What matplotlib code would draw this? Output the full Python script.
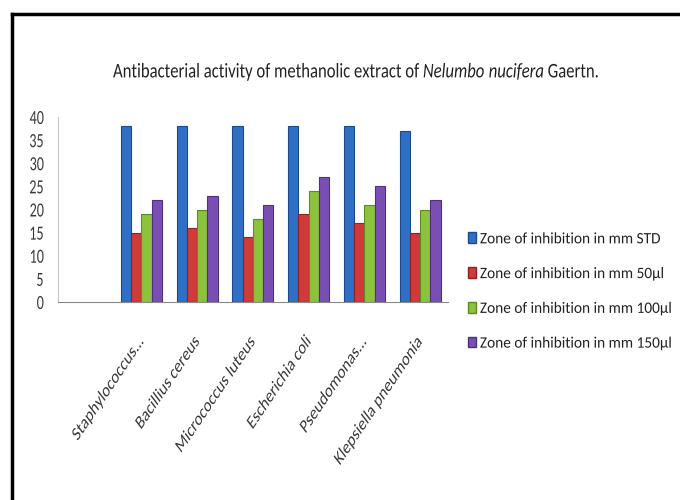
import matplotlib
matplotlib.use("Agg")
import matplotlib.pyplot as plt
import numpy as np
from matplotlib.lines import Line2D
from matplotlib.patches import Patch
from matplotlib import font_manager as fm
from matplotlib.patheffects import AbstractPathEffect
from matplotlib.transforms import Affine2D

categories = ["Staphylococcus...", "Bacillius cereus", "Micrococcus luteus",
              "Escherichia coli", "Pseudomonas...", "Klepsiella pneumonia"]
series_names = ["Zone of inhibition in mm STD", "Zone of inhibition in mm 50\u00b5l",
                "Zone of inhibition in mm 100\u00b5l", "Zone of inhibition in mm 150\u00b5l"]
std_vals = [38, 38, 38, 38, 38, 37]
v50 = [15, 16, 14, 19, 17, 15]
v100 = [19, 20, 18, 24, 21, 20]
v150 = [22, 23, 21, 27, 25, 22]
yticks = [0, 5, 10, 15, 20, 25, 30, 35, 40]

colors = ["#2f6fc6", "#d03a3a", "#8cc23c", "#7a4fb2"]
edges = ["#1d4a8a", "#8e2222", "#5d8a22", "#503080"]

available = {f.name for f in fm.fontManager.ttflist}
preferred = ["Carlito", "Liberation Sans Narrow", "Open Sans Condensed", "Roboto Condensed",
             "PT Sans Narrow", "Archivo Narrow", "Fira Sans Condensed", "Lato"]
FONT = next((p for p in preferred if p in available), "DejaVu Sans")
plt.rcParams["font.family"] = [FONT, "DejaVu Sans"]
plt.rcParams["mathtext.fontset"] = "custom"
plt.rcParams["mathtext.rm"] = FONT
plt.rcParams["mathtext.it"] = FONT + ":italic"


class Squash(AbstractPathEffect):
    """Compress text horizontally (in display space) about its anchor."""
    def __init__(self, sx=0.75, anchor="left"):
        super().__init__((0, 0))
        self.sx = sx
        self.anchor = anchor

    def draw_path(self, renderer, gc, tpath, affine, rgbFace=None):
        ext = tpath.get_extents()
        fx = {"left": 0.0, "right": ext.x1, "center": 0.5 * (ext.x0 + ext.x1)}[self.anchor]
        px, py = affine.transform((fx, 0.0))
        sq = Affine2D().translate(-px, -py).scale(self.sx, 1.0).translate(px, py)
        renderer.draw_path(gc, tpath, affine + sq, rgbFace)


fig = plt.figure(figsize=(6.8, 5.0), dpi=100)
ax = fig.add_axes([0.085, 0.396, 0.574, 0.37])

x = np.arange(len(categories)) + 1
w = 0.184
allvals = [std_vals, v50, v100, v150]
for i, vals in enumerate(allvals):
    ax.bar(x + (i - 1.5) * w, vals, width=w, color=colors[i], edgecolor=edges[i],
           linewidth=0.8, label=series_names[i], zorder=3)

ax.set_xlim(-0.5, len(categories) + 0.5)
ax.set_ylim(0, 40)
ax.set_yticks(yticks)
ylabs = ax.set_yticklabels([str(t) for t in yticks], fontsize=14.5, color="#3a3a3a")
ax.tick_params(axis="y", length=0, pad=10)
for t in ylabs:
    t.set_path_effects([Squash(0.7, "right")])
ax.set_xticks(x)
xlabs = ax.set_xticklabels(categories, rotation=47, ha="right", rotation_mode="anchor",
                           fontsize=14, color="#3a3a3a")
ax.tick_params(axis="x", length=0, pad=22)
for t in xlabs:
    t.set_path_effects([Squash(0.72, "right")])
    t.set_transform(t.get_transform() + Affine2D().translate(-6, 0))
for s in ["top", "right"]:
    ax.spines[s].set_visible(False)
ax.spines["left"].set_color("#c8c8c8")
ax.spines["bottom"].set_color("#888888")

title = fig.text(0.525, 0.856,
                 r"Antibacterial activity of methanolic extract of $\mathit{Nelumbo\ nucifera}$ Gaertn.",
                 ha="center", va="center", fontsize=15, color="#222222")
title.set_path_effects([Squash(0.8, "center")])

handles = [Patch(facecolor=colors[i], edgecolor=edges[i], label=series_names[i]) for i in range(4)]
leg = fig.legend(handles=handles, loc="center left", bbox_to_anchor=(0.667, 0.417),
                 frameon=False, fontsize=11.5, handlelength=0.5, handleheight=0.65,
                 handletextpad=0.25, labelspacing=1.3, labelcolor="#222222")
for t in leg.get_texts():
    t.set_path_effects([Squash(0.96, "left")])

# border (top & left)
fig.add_artist(Line2D([0.017, 1.0], [0.973, 0.973], transform=fig.transFigure,
                      color="black", linewidth=2.5))
fig.add_artist(Line2D([0.017, 0.017], [0.0, 0.973], transform=fig.transFigure,
                      color="black", linewidth=2.5))

fig.savefig("out.png", dpi=100)
